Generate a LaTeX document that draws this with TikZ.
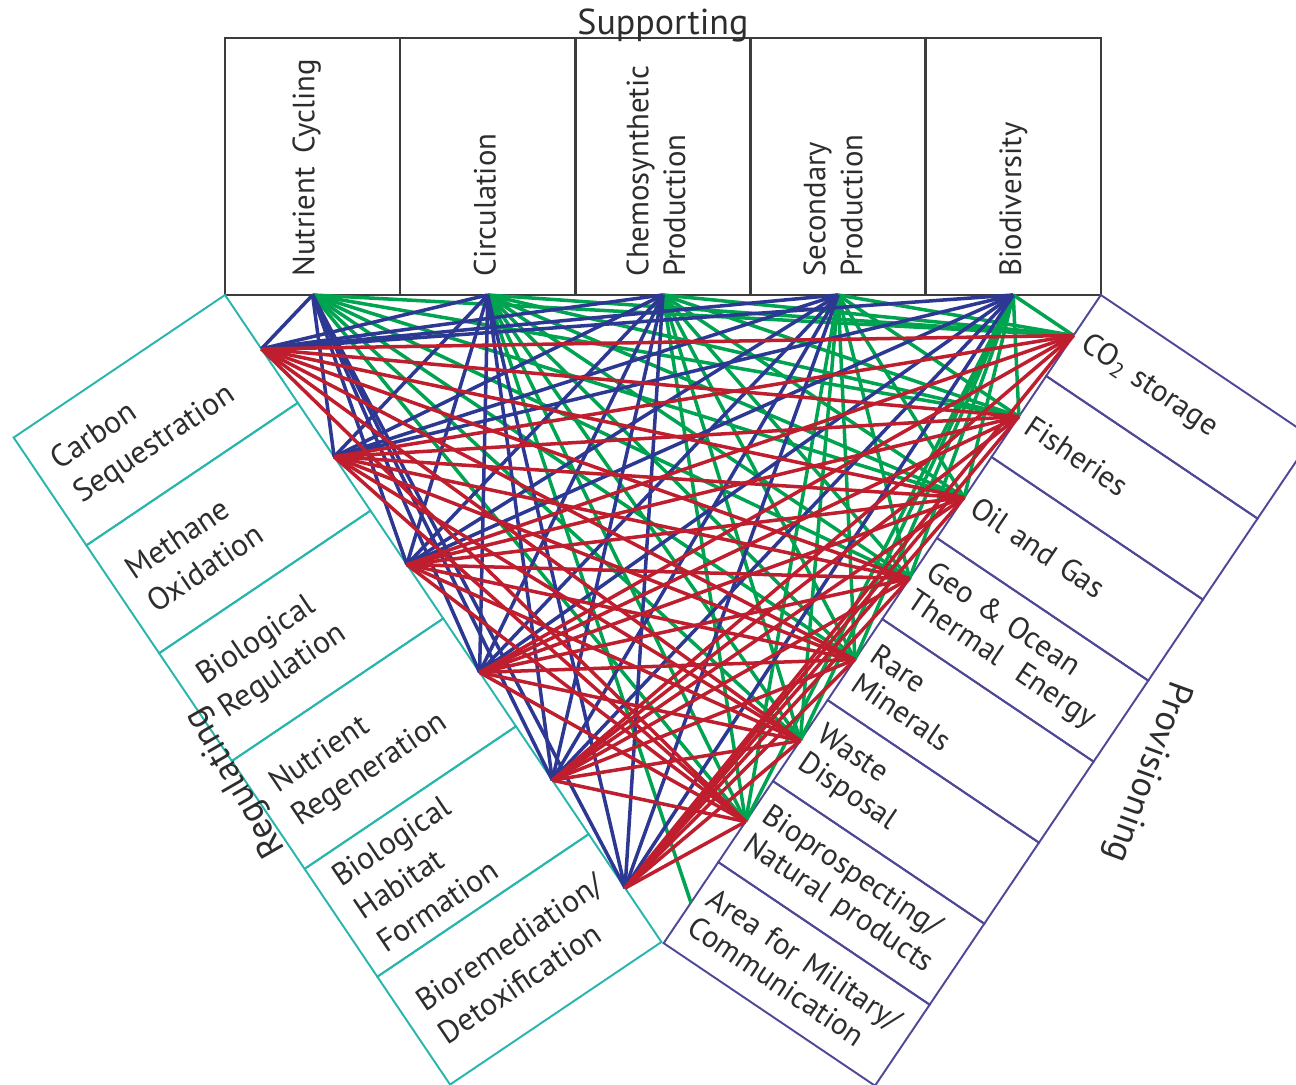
\documentclass[tikz,border=0pt]{standalone}
\usepackage{fontspec}
\setmainfont{PT Sans}
\usetikzlibrary{positioning}

\definecolor{supportblue}{RGB}{44,56,146}
\definecolor{supportgreen}{RGB}{0,163,80}
\definecolor{regulatered}{RGB}{190,30,45}
\definecolor{regteal}{RGB}{40,182,172}
\definecolor{provnavy}{RGB}{78,72,150}
\definecolor{boxgray}{RGB}{60,60,60}
\definecolor{textgray}{RGB}{45,45,45}

\begin{document}
\begin{tikzpicture}[x=0.02cm, y=-0.02cm]
	% Styles for boxes, texts and links
	\tikzstyle{supbox}    = [rectangle, draw=boxgray, line width=1.4pt, minimum width=3.504cm, minimum height=5.14cm, inner sep=0pt, outer sep=0pt]
	\tikzstyle{suptext}   = [rotate=90, text width=4.4cm, align=left, text=textgray, font=\fontsize{17.5}{21}\selectfont, inner sep=0pt]
	\tikzstyle{regbox}    = [rectangle, draw=regteal, line width=1.1pt, rotate=34, minimum width=5.1cm, minimum height=2.602cm, text width=4.3cm, align=left, inner sep=0pt, outer sep=0pt, text=textgray, font=\fontsize{18}{22.7}\selectfont]
	\tikzstyle{provbox}   = [rectangle, draw=provnavy, line width=1.1pt, rotate=-34, minimum width=5.1cm, minimum height=1.955cm, text width=4.62cm, align=left, inner sep=0pt, outer sep=0pt, text=textgray, font=\fontsize{17.5}{19.5}\selectfont]
	\tikzstyle{grouptext} = [text=textgray, font=\fontsize{20.5}{24}\selectfont, inner sep=0pt]
	\tikzstyle{blueline}  = [draw=supportblue, line width=2pt]
	\tikzstyle{greenline} = [draw=supportgreen, line width=2pt]
	\tikzstyle{redline}   = [draw=regulatered, line width=2pt]

	\useasboundingbox (0,0) rectangle (1296,1085);
	\clip (0,0) rectangle (1296,1085);

	% Supporting boxes on top
	\node[supbox]                    (nutcyc)  at (312.6,166.5) {};
	\node[supbox, right=0pt of nutcyc] (circ)    {};
	\node[supbox, right=0pt of circ]   (chemo)   {};
	\node[supbox, right=0pt of chemo]  (secprod) {};
	\node[supbox, right=0pt of secprod] (biodiv) {};

	\node[suptext] (nutcyc-text)  at ([xshift=-0.12cm]nutcyc)  {\mbox{Nutrient\hspace{0.45em}Cycling}};
	\node[suptext] (circ-text)    at ([xshift=-0.06cm]circ)    {Circulation};
	\node[suptext] (chemo-text)   at ([xshift=-0.14cm]chemo)   {Chemosynthetic\\Production};
	\node[suptext] (secprod-text) at ([xshift=-0.1cm]secprod)  {Secondary\\Production};
	\node[suptext] (biodiv-text)  at (biodiv)  {Biodiversity};

	\node[grouptext, above=-0.08cm of chemo] (supporting) {Supporting};

	% Regulating boxes, left
	\node[regbox, anchor=north east] (carbon) at (nutcyc.south west) {Carbon\\Sequestration};
	\node[regbox, below=0pt of carbon]  (methane) {Methane\\Oxidation};
	\node[regbox, below=0pt of methane] (bioreg)  {Biological\\Regulation};
	\node[regbox, below=0pt of bioreg]  (nutreg)  {Nutrient\\Regeneration};
	\node[regbox, below=0pt of nutreg]  (habitat) {Biological\\Habitat\\Formation};
	\node[regbox, below=0pt of habitat] (biorem)  {Bioremediation/\\Detoxification};

	\node[grouptext, rotate=120] (regulating) at (236,782) {Regulating};

	% Provisioning boxes, right
	\node[provbox, anchor=north west] (cotwo) at (biodiv.south east) {CO\textsubscript{2}~storage};
	\node[provbox, below=0pt of cotwo]    (fish)     {Fisheries};
	\node[provbox, below=0pt of fish]     (oilgas)   {Oil~and~Gas};
	\node[provbox, below=0pt of oilgas]   (geo)      {Geo~\&~Ocean\\Thermal~~Energy};
	\node[provbox, below=0pt of geo]      (minerals) {Rare\\Minerals};
	\node[provbox, below=0pt of minerals] (waste)    {Waste\\Disposal};
	\node[provbox, below=0pt of waste]    (bioprosp) {Bioprospecting/\\Natural~products};
	\node[provbox, below=0pt of bioprosp] (military) {Area~for~Military/\\Communication};

	\node[grouptext, rotate=-110] (provisioning) at (1147,772) {Provisioning};

	% Links supporting -> provisioning
	\foreach \s in {nutcyc,circ,chemo,secprod,biodiv}
		\foreach \p in {cotwo,fish,oilgas,geo,minerals,waste,bioprosp}
			\draw[greenline] (\s.south) -- (\p.west);
	\draw[greenline] (circ.south) -- (military.west);

	% Links supporting -> regulating
	\foreach \s in {nutcyc,circ,chemo,secprod,biodiv}
		\foreach \r in {carbon,methane,bioreg,nutreg,habitat,biorem}
			\draw[blueline] (\s.south) -- (\r.east);

	% Links regulating -> provisioning
	\foreach \r in {carbon,methane,bioreg,nutreg,habitat,biorem}
		\foreach \p in {cotwo,fish,oilgas,geo,minerals,waste,bioprosp}
			\draw[redline] (\r.east) -- (\p.west);

\end{tikzpicture}
\end{document}
